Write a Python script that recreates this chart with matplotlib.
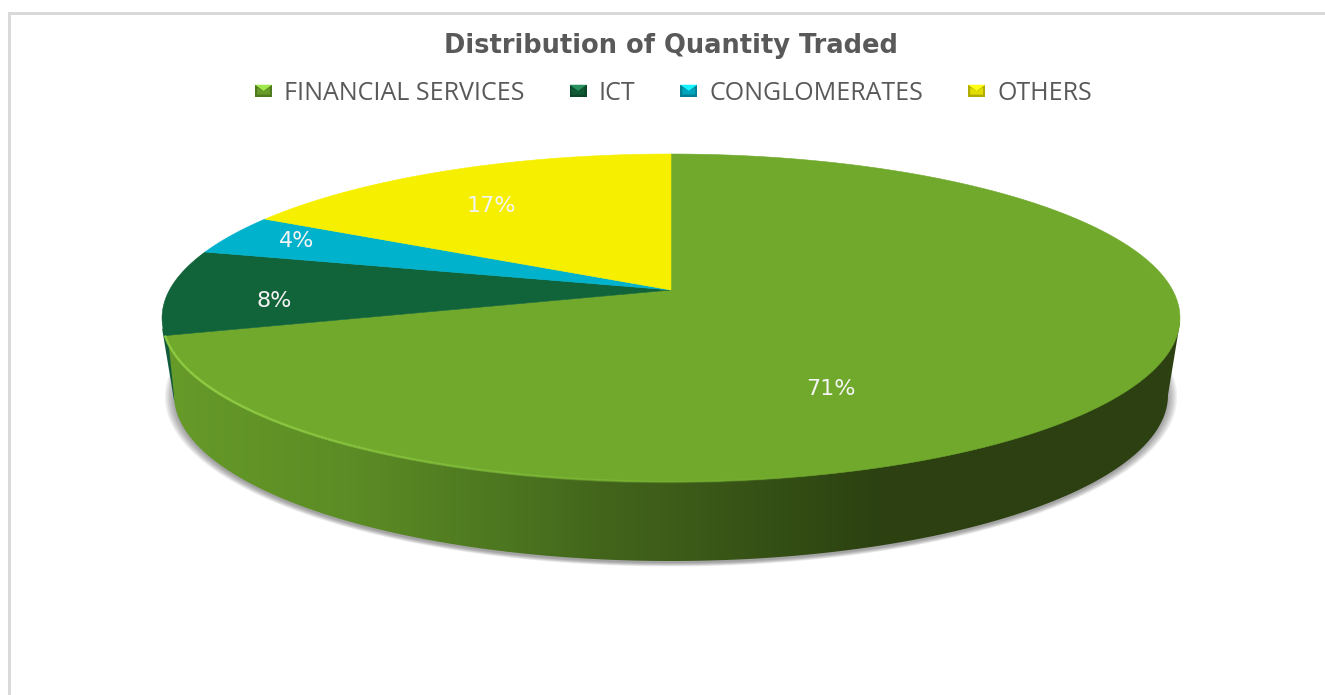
#!/usr/bin/env python3

import numpy as np
import matplotlib
matplotlib.use('Agg')
import matplotlib.pyplot as plt
from matplotlib import colors
from matplotlib.collections import LineCollection
from matplotlib.legend_handler import HandlerPatch
from matplotlib.patches import Polygon, Rectangle

title = 'Distribution of Quantity Traded'
categories = ['FINANCIAL SERVICES', 'ICT', 'CONGLOMERATES', 'OTHERS']
shares = [70.6, 8.4, 4.0, 17.0]
slice_colors = ['#70a92c', '#11633a', '#00b2cc', '#f6f000']
label_xy = [(831, 389), (274, 301), (297, 241), (491, 206)]

# perspective of the top face, everything in image pixels
cx, cy = 671, 290
a, b, k = 501.5, 159.2, 0.1707
# bottom outline of the side wall
wall_cy, wall_rx, wall_ry = 395, 497, 166


def project(theta):
    x, y = np.cos(theta), np.sin(theta)
    d = 1 + k*y
    return cx + a*x/d, cy - b*y/d


class BevelHandler(HandlerPatch):
    def create_artists(self, legend, orig_handle, xdescent, ydescent,
                       width, height, fontsize, trans):
        rgb = np.array(colors.to_rgb(orig_handle.get_facecolor()))
        x0, y0 = -xdescent, -ydescent
        x1, y1 = x0 + width, y0 + height
        xm, ym = (x0 + x1)/2, (y0 + y1)/2
        base = Rectangle((x0, y0), width, height, fc=rgb*0.72, ec='none', transform=trans)
        top = Polygon([(x0, y1), (x1, y1), (xm, ym)], fc=np.minimum(rgb*1.25 + 0.08, 1), ec='none', transform=trans)
        mid = Polygon([(x0 + 1.5, y0 + 2), (x1 - 1.5, y0 + 2), (x1 - 1.5, y1 - 2), (xm, ym), (x0 + 1.5, y1 - 2)],
                      fc=rgb*0.92, ec='none', transform=trans)
        return [base, top, mid]


fig = plt.figure(figsize=(13.25, 6.95), dpi=100, facecolor='white')
ax = fig.add_axes([0, 0, 1, 1])
ax.set_xlim(0, 1325)
ax.set_ylim(695, 0)
ax.axis('off')

# chart frame
ax.fill([8, 1325, 1325, 11, 11, 8], [12, 12, 15, 15, 695, 695], color='#d9d9d9', lw=0)

# soft shadow under the wall, runs a bit above the widest point so it tapers off
t = np.linspace(-0.28, np.pi + 0.28, 240)
for i in range(8):
    sx = 671 + (wall_rx + 1.3*i)*np.cos(t)
    sy = wall_cy + 2 + (wall_ry + 0.5*i)*np.sin(t)
    ax.fill(sx, sy, color='#404040', alpha=0.075, lw=0)

# side wall
t = np.linspace(0, np.pi, 200)
wx = 671 + wall_rx*np.cos(t)
wy = wall_cy + wall_ry*np.sin(t)
wall_xy = np.column_stack([np.r_[1180, wx, 168, 1180], np.r_[322, wy, 338, 322]])
ax.add_patch(Polygon([(162, 328), (174, 400), (180, 404), (170, 336)], fc='#125a3c', ec='none'))
wall_patch = Polygon(wall_xy, fc='none', ec='none')
ax.add_patch(wall_patch)
grad_x = np.arange(160, 1185)
stops_x = [170, 350, 500, 600, 700, 800, 880, 1180]
stops_c = np.array([colors.to_rgb(c) for c in
                    ['#669a29', '#5c8c25', '#4d7720', '#42651b', '#3b5918', '#324c14', '#2c4111', '#2c4011']])
grad = np.stack([np.interp(grad_x, stops_x, stops_c[:, i]) for i in range(3)], axis=-1)[None, :, :]
im = ax.imshow(grad, extent=[160, 1185, 570, 310], aspect='auto', zorder=1.5, interpolation='bilinear')
im.set_clip_path(wall_patch)
ax.set_xlim(0, 1325)
ax.set_ylim(695, 0)

# top face, clockwise from twelve o'clock
edges = np.pi/2 - 2*np.pi*np.r_[0, np.cumsum(shares)]/np.sum(shares)
for i, color in enumerate(slice_colors):
    th = np.linspace(edges[i], edges[i + 1], 300)
    px, py = project(th)
    ax.fill(np.r_[cx, px], np.r_[cy, py], color=color, lw=0.4, ec=color, zorder=2)

# highlight on the front rim, fading out to the right
th = np.linspace(edges[1], np.radians(-72), 200)
px, py = project(th)
pts = np.column_stack([px, py]).reshape(-1, 1, 2)
segs = np.concatenate([pts[:-1], pts[1:]], axis=1)
fade = np.clip(np.linspace(1.3, 0, len(segs)), 0, 1)
rim = np.tile(colors.to_rgba('#8fcc44'), (len(segs), 1))
rim[:, 3] = fade
ax.add_collection(LineCollection(segs, colors=rim, linewidths=1.8, zorder=2.5))

for (lx, ly), share in zip(label_xy, shares):
    ax.text(lx, ly, f'{round(share)}%', color='#f4f4f4', fontsize=16, family='DejaVu Sans',
            ha='center', va='center', zorder=3)

ax.text(671, 46, title, color='#595959', fontsize=18.5, fontweight='bold', family='DejaVu Sans',
        ha='center', va='center')

handles = [Rectangle((0, 0), 1, 1, fc=c) for c in slice_colors]
fs = 18
px_to_em = 72/100/fs
leg = ax.legend(handles, categories, ncol=4, loc='center', bbox_to_anchor=(673.5/1325, 1 - 93.5/695),
                bbox_transform=fig.transFigure, frameon=False, prop={'family': 'Open Sans', 'size': fs},
                labelcolor='#595959', handler_map={Rectangle: BevelHandler()},
                handlelength=17*px_to_em, handleheight=10*px_to_em, handletextpad=12*px_to_em,
                columnspacing=45*px_to_em, borderpad=0, borderaxespad=0)

fig.savefig('out.png', dpi=100)
